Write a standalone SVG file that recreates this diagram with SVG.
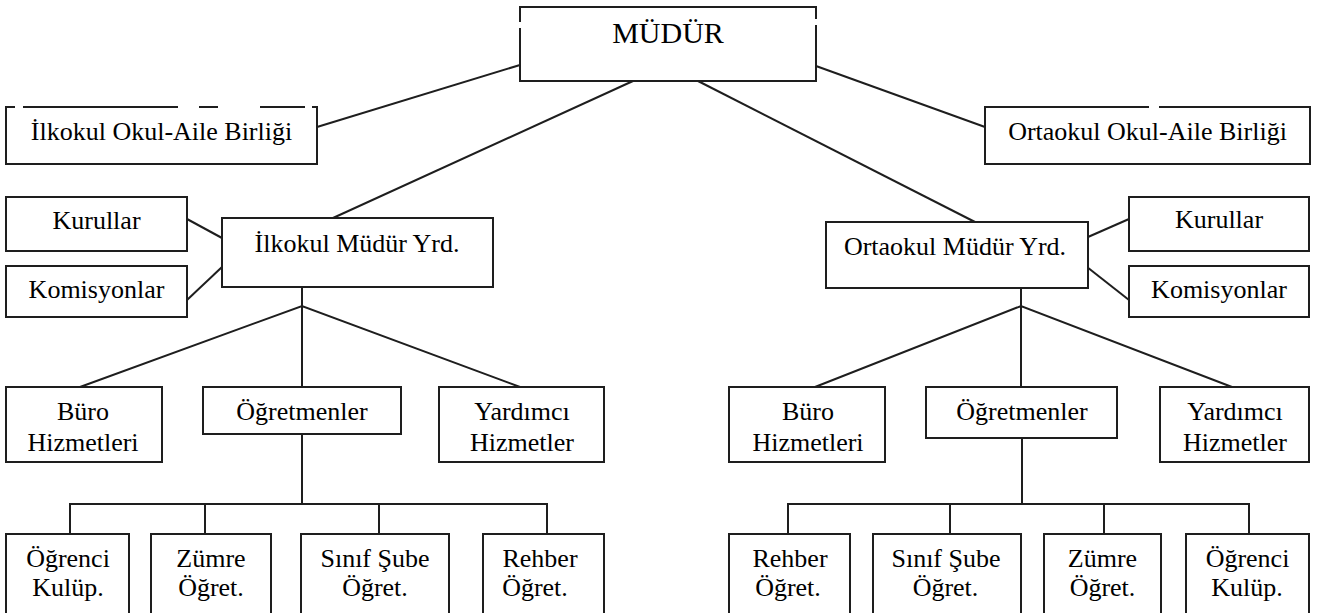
<svg xmlns="http://www.w3.org/2000/svg" width="1317" height="613" viewBox="0 0 1317 613">
  <style>
    .box{fill:#fff;stroke:#1e1e1e;stroke-width:2}
    .ln{fill:none;stroke:#1e1e1e;stroke-width:2}
    .gap{stroke:#fff;stroke-width:3.5}
    text{font-family:'Liberation Serif','Times New Roman',serif;font-size:26px;fill:#000;text-anchor:middle}
  </style>
  <rect width="1317" height="613" fill="#fff"/>
  <g id="connectors" class="ln">
    <path d="M520 65 L317 127"/>
    <path d="M816 66 L985 127"/>
    <path d="M633 81 L333 218"/>
    <path d="M698 81 L975 222"/>
    <path d="M187 219 L222 238"/>
    <path d="M187 300 L222 267"/>
    <path d="M1129 219 L1088 237"/>
    <path d="M1129 300 L1087 267"/>
    <path d="M302 287 V306 M80 387 L302 306 L520 387 M302 306 V387"/>
    <path d="M1021 288 V306 M815 387 L1021 306 L1232 387 M1021 306 V387"/>
    <path d="M302 434 V504 M70 534 V504 H547 V534 M205 504 V534 M379 504 V534"/>
    <path d="M1022 438 V504 M788 534 V504 H1249 V534 M950 504 V534 M1104 504 V534"/>
  </g>
  <g id="mudur">
    <rect class="box" x="520" y="7" width="296" height="74"/>
    <line class="gap" x1="520" y1="22" x2="520" y2="28"/>
    <line class="gap" x1="816" y1="19" x2="816" y2="25"/>
    <text x="668" y="43" style="font-size:30px">MÜDÜR</text>
  </g>
  <g id="ilkokul-oab">
    <rect class="box" x="6" y="107" width="311" height="57"/>
    <path class="gap" d="M15 107 H23 M178 107 H199 M218 107 H260 M305 107 H312"/>
    <text x="161.5" y="140">İlkokul Okul-Aile Birliği</text>
  </g>
  <g id="ortaokul-oab">
    <rect class="box" x="985" y="107" width="325" height="57"/>
    <path class="gap" d="M1149 107 H1159"/>
    <text x="1147.5" y="140">Ortaokul Okul-Aile Birliği</text>
  </g>
  <g id="kurullar-l">
    <rect class="box" x="6" y="197" width="181" height="54"/>
    <text x="96.5" y="229">Kurullar</text>
  </g>
  <g id="komisyonlar-l">
    <rect class="box" x="6" y="266" width="181" height="51"/>
    <text x="96.5" y="298">Komisyonlar</text>
  </g>
  <g id="ilkokul-my">
    <rect class="box" x="222" y="218" width="271" height="69"/>
    <text x="357" y="252">İlkokul Müdür Yrd.</text>
  </g>
  <g id="ortaokul-my">
    <rect class="box" x="826" y="222" width="262" height="66"/>
    <text x="955" y="255">Ortaokul Müdür Yrd.</text>
  </g>
  <g id="kurullar-r">
    <rect class="box" x="1129" y="197" width="180" height="54"/>
    <text x="1219" y="228">Kurullar</text>
  </g>
  <g id="komisyonlar-r">
    <rect class="box" x="1129" y="266" width="180" height="51"/>
    <text x="1219" y="298">Komisyonlar</text>
  </g>
  <g id="buro-l">
    <rect class="box" x="6" y="387" width="156" height="75"/>
    <text x="83" y="420">Büro</text>
    <text x="83" y="451">Hizmetleri</text>
  </g>
  <g id="ogretmenler-l">
    <rect class="box" x="203" y="387" width="198" height="47"/>
    <text x="302" y="420">Öğretmenler</text>
  </g>
  <g id="yardimci-l">
    <rect class="box" x="439" y="387" width="165" height="75"/>
    <text x="522" y="420">Yardımcı</text>
    <text x="522" y="451">Hizmetler</text>
  </g>
  <g id="buro-r">
    <rect class="box" x="729" y="387" width="156" height="75"/>
    <text x="808" y="420">Büro</text>
    <text x="808" y="451">Hizmetleri</text>
  </g>
  <g id="ogretmenler-r">
    <rect class="box" x="926" y="387" width="191" height="51"/>
    <text x="1022" y="420">Öğretmenler</text>
  </g>
  <g id="yardimci-r">
    <rect class="box" x="1160" y="387" width="149" height="75"/>
    <text x="1235" y="420">Yardımcı</text>
    <text x="1235" y="451">Hizmetler</text>
  </g>
  <g id="ogrenci-l">
    <rect class="box" x="6" y="534" width="123" height="86"/>
    <text x="68" y="567">Öğrenci</text>
    <text x="68" y="596">Kulüp.</text>
  </g>
  <g id="zumre-l">
    <rect class="box" x="151" y="534" width="120" height="86"/>
    <text x="211" y="567">Zümre</text>
    <text x="211" y="596">Öğret.</text>
  </g>
  <g id="sinif-l">
    <rect class="box" x="301" y="534" width="148" height="86"/>
    <text x="375" y="567">Sınıf Şube</text>
    <text x="375" y="596">Öğret.</text>
  </g>
  <g id="rehber-l">
    <rect class="box" x="483" y="534" width="121" height="86"/>
    <text x="540" y="567">Rehber</text>
    <text x="535" y="596">Öğret.</text>
  </g>
  <g id="rehber-r">
    <rect class="box" x="729" y="534" width="121" height="86"/>
    <text x="790" y="567">Rehber</text>
    <text x="788" y="596">Öğret.</text>
  </g>
  <g id="sinif-r">
    <rect class="box" x="873" y="534" width="148" height="86"/>
    <text x="946" y="567">Sınıf Şube</text>
    <text x="945.5" y="596">Öğret.</text>
  </g>
  <g id="zumre-r">
    <rect class="box" x="1044" y="534" width="117" height="86"/>
    <text x="1102.5" y="567">Zümre</text>
    <text x="1102.5" y="596">Öğret.</text>
  </g>
  <g id="ogrenci-r">
    <rect class="box" x="1186" y="534" width="123" height="86"/>
    <text x="1247.5" y="567">Öğrenci</text>
    <text x="1247" y="596">Kulüp.</text>
  </g>
</svg>
